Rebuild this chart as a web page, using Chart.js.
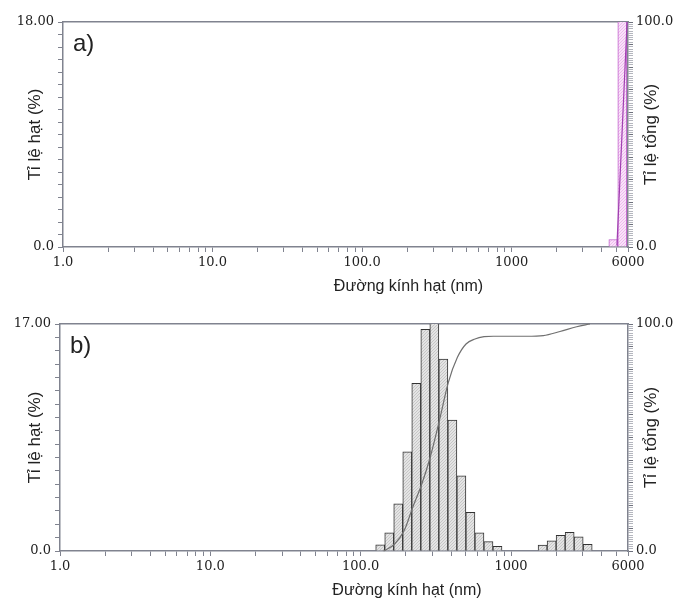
<!DOCTYPE html>
<html>
<head>
<meta charset="utf-8">
<script src="https://cdn.jsdelivr.net/npm/chart.js@4/dist/chart.umd.min.js"></script>
<style>
  body { margin: 0; background: #fff; }
  canvas { display: block; }
</style>
</head>
<body>
<canvas id="chartA" width="678" height="300"></canvas>
<canvas id="chartB" width="678" height="301"></canvas>
<script>
// log axis ticks (nm)
const X_TICKS = [1, 2, 3, 4, 5, 6, 7, 8, 9, 10, 20, 30, 40, 50, 60, 70, 80, 90,
  100, 200, 300, 400, 500, 600, 700, 800, 900, 1000, 2000, 3000, 4000, 5000, 6000];
const X_MAJOR = [1, 10, 100, 1000, 6000];
const X_LABELS = ['1.0', '10.0', '100.0', '1000', '6000'];

const X_TITLE = 'Đường kính hạt (nm)';
const Y_TITLE = 'Tỉ lệ hạt (%)';
const Y2_TITLE = 'Tỉ lệ tổng (%)';

// a) bin centre (nm), frequency (%), cumulative curve
const A_MAX = 18;
const A_SIZE = [4786, 5495];
const A_FREQ = [0.6, 99.4];
const A_CUM_SIZE = [5060, 5916];
const A_CUM = [0.6, 100];

// b)
const B_MAX = 17;
const B_SIZE = [134.9, 154.9, 177.8, 204.2, 234.4, 269.2, 309.0, 354.8, 407.4, 467.7,
  537.0, 616.6, 707.9, 812.8, 1622, 1862, 2138, 2455, 2818, 3236];
const B_FREQ = [0.47, 1.37, 3.54, 7.43, 12.56, 16.6, 17.3, 14.38, 9.8, 5.63,
  2.89, 1.37, 0.70, 0.35, 0.45, 0.77, 1.17, 1.40, 1.07, 0.5];
const B_CUM_SIZE = [142, 169, 195, 222, 255, 290, 334, 383, 440, 502, 576, 662, 763, 985, 1271, 1641, 2117, 2733, 3350];
const B_CUM = [0, 3.2, 9.1, 19.3, 29.5, 41.3, 57.5, 74.3, 85.3, 91.2, 93.4, 94.4, 94.6, 94.6, 94.6, 94.9, 96.7, 98.8, 100];

const AXIS = '#80838f';
const TEXT = '#222';
const SERIF = { family: '"DejaVu Serif", serif', size: 13 };

// fine stipple fill like the instrument printout
function hatch(bg, fg) {
  const c = document.createElement('canvas');
  c.width = c.height = 3;
  const g = c.getContext('2d');
  g.fillStyle = bg; g.fillRect(0, 0, 3, 3);
  g.fillStyle = fg;
  for (let i = 0; i < 3; i++) g.fillRect(i, 2 - i, 1, 1);
  return g.createPattern(c, 'repeat');
}

// panel letter, axis titles (right title reads bottom-to-top like the left one)
const panelText = {
  id: 'panelText',
  afterDraw(chart, args, o) {
    const { ctx, chartArea: a } = chart;
    const midY = (a.top + a.bottom) / 2;
    ctx.save();
    ctx.fillStyle = TEXT;
    ctx.font = '24px "Liberation Sans", Arial, sans-serif';
    ctx.textAlign = 'left';
    ctx.textBaseline = 'alphabetic';
    ctx.fillText(o.label, a.left + 10, a.top + 29);
    ctx.font = '16px "Liberation Sans", Arial, sans-serif';
    ctx.textAlign = 'center';
    ctx.textBaseline = 'middle';
    ctx.fillText(X_TITLE, (a.left + a.right) / 2 + 63, a.bottom + 40);
    ctx.font = '17px "Liberation Sans", Arial, sans-serif';
    [[35, Y_TITLE], [chart.width - 27, Y2_TITLE]].forEach(([x, t]) => {
      ctx.save();
      ctx.translate(x, midY);
      ctx.rotate(-Math.PI / 2);
      ctx.fillText(t, 0, 0);
      ctx.restore();
    });
    ctx.restore();
  }
};

function makePanel(id, p) {
  const xy = (xs, ys) => xs.map((x, i) => ({ x, y: ys[i] }));
  new Chart(document.getElementById(id), {
    type: 'bar',
    data: {
      datasets: [
        { type: 'line', data: xy(p.cumSize, p.cum), yAxisID: 'y2', borderColor: p.line, borderWidth: 1.2,
          pointRadius: 0, cubicInterpolationMode: 'monotone', fill: false, clip: 2, order: 0 },
        { type: 'bar', data: xy(p.size, p.freq), yAxisID: 'y', backgroundColor: p.fill, borderColor: p.edge,
          borderWidth: 1, clip: 0, order: 1,
          barThickness: c => {
            const x = c.chart.scales.x;
            return x.getPixelForValue(p.size[1]) - x.getPixelForValue(p.size[0]);
          } }
      ]
    },
    options: {
      responsive: false, animation: false, devicePixelRatio: 1, events: [],
      layout: { padding: { top: p.top, left: 0, right: 0, bottom: 0 } },
      plugins: { legend: { display: false }, tooltip: { enabled: false }, panelText: { label: p.label } },
      scales: {
        x: {
          type: 'logarithmic', min: 1, max: 6000, offset: false,
          afterBuildTicks: s => { s.ticks = X_TICKS.map(v => ({ value: v })); },
          afterFit: s => { s.height = p.bottom; },
          grid: { offset: false, drawOnChartArea: false, tickLength: 5, tickColor: AXIS },
          border: { color: AXIS, width: 1.5 },
          ticks: { autoSkip: false, maxRotation: 0, padding: 3, color: TEXT, font: SERIF,
            callback: v => { const i = X_MAJOR.indexOf(v); return i < 0 ? '' : X_LABELS[i]; } }
        },
        xTop: {
          type: 'logarithmic', position: 'top', min: 1, max: 6000, offset: false,
          afterFit: s => { s.height = 0; },
          ticks: { display: false },
          grid: { drawOnChartArea: false, drawTicks: false },
          border: { color: AXIS, width: 1.5 }
        },
        y: {
          min: 0, max: p.max,
          afterFit: s => { s.width = p.left; },
          grid: { drawOnChartArea: false, tickLength: 5, tickColor: AXIS },
          border: { color: AXIS, width: 1.5 },
          ticks: { stepSize: 1, autoSkip: false, padding: 4, color: TEXT, font: SERIF,
            callback: v => v === 0 ? '0.0' : v === p.max ? p.max.toFixed(2) : '' }
        },
        y2: {
          position: 'right', min: 0, max: 100,
          afterFit: s => { s.width = p.right; },
          grid: { drawOnChartArea: false, tickLength: 5,
            tickColor: c => c.tick && c.tick.value % 10 === 0 ? '#6d707c' : '#b4b6be' },
          border: { color: AXIS, width: 1.5 },
          ticks: { stepSize: 1, autoSkip: false, padding: 3, color: TEXT, font: SERIF,
            callback: v => v === 0 ? '0.0' : v === 100 ? '100.0' : '' }
        }
      }
    },
    plugins: [panelText]
  });
}

makePanel('chartA', {
  label: 'a)', max: A_MAX, size: A_SIZE, freq: A_FREQ, cumSize: A_CUM_SIZE, cum: A_CUM,
  top: 22, left: 63, right: 50, bottom: 53,
  fill: hatch('#fae2fa', '#eebcee'), edge: '#c060cc', line: '#a040b0'
});
makePanel('chartB', {
  label: 'b)', max: B_MAX, size: B_SIZE, freq: B_FREQ, cumSize: B_CUM_SIZE, cum: B_CUM,
  top: 24, left: 60, right: 50, bottom: 50,
  fill: hatch('#e4e4e4', '#c6c6c6'), edge: '#333333', line: '#707070'
});
</script>
</body>
</html>
